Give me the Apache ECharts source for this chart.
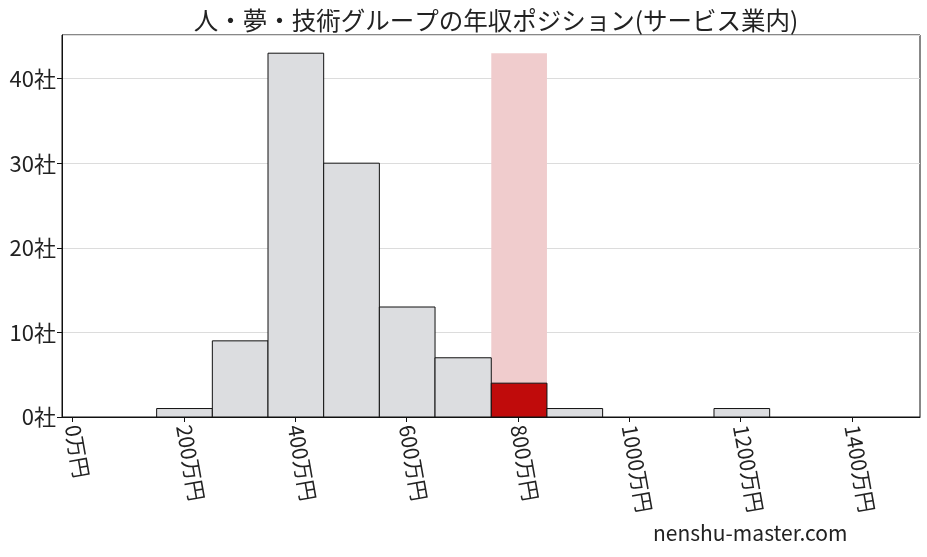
<!DOCTYPE html>
<html>
<head>
<meta charset="utf-8">
<script src="https://cdn.jsdelivr.net/npm/echarts@6/dist/echarts.min.js"></script>
<style>
  html, body { margin: 0; padding: 0; background: #fff; }
  #main { width: 927px; height: 557px; }
</style>
</head>
<body>
<div id="main"></div>
<script>
// ヒストグラムのデータ（年収の階級と社数）
var binEdges = [151, 251, 351, 451, 551, 651, 752, 852, 952, 1052, 1152, 1252];
var counts = [1, 9, 43, 30, 13, 7, 4, 1, 0, 0, 1];
var highlightIndex = 6;
var xTicks = [0, 200, 400, 600, 800, 1000, 1200, 1400];
var titleText = '人・夢・技術グループの年収ポジション(サービス業内)';

var FONT = '"Noto Sans CJK JP", "Noto Sans", sans-serif';

var barData = [];
for (var i = 0; i < counts.length; i++) {
  if (counts[i] > 0) {
    barData.push([binEdges[i], binEdges[i + 1], counts[i], i === highlightIndex ? 1 : 0]);
  }
}
var maxCount = Math.max.apply(null, counts);
var bandData = [[binEdges[highlightIndex], binEdges[highlightIndex + 1], maxCount]];

function renderBar(params, api) {
  var p0 = api.coord([api.value(0), 0]);
  var p1 = api.coord([api.value(1), api.value(2)]);
  var hl = api.value(3) === 1;
  return {
    type: 'rect',
    shape: { x: p0[0], y: p1[1], width: p1[0] - p0[0], height: p0[1] - p1[1] },
    style: {
      fill: hl ? '#c00b0b' : '#dcdde0',
      stroke: '#111',
      lineWidth: 1
    }
  };
}

function renderBand(params, api) {
  var p0 = api.coord([api.value(0), 0]);
  var p1 = api.coord([api.value(1), api.value(2)]);
  return {
    type: 'rect',
    shape: { x: p0[0], y: p1[1], width: p1[0] - p0[0], height: p0[1] - p1[1] },
    style: { fill: '#f0cccd' }
  };
}

var chart = echarts.init(document.getElementById('main'));
var option = {
  backgroundColor: '#fff',
  animation: false,
  title: {
    text: titleText,
    left: 491,
    textAlign: 'center',
    top: 3,
    textStyle: { fontFamily: FONT, fontSize: 24.5, fontWeight: 'normal', color: '#222' }
  },
  graphic: [{
    type: 'text',
    left: 653,
    top: 523,
    style: { text: 'nenshu-master.com', font: '21px ' + FONT, fill: '#222' }
  }],
  grid: {
    left: 62, right: 7, top: 35, bottom: 140,
    show: true, borderColor: '#111', borderWidth: 1
  },
  xAxis: {
    type: 'value',
    min: -19,
    max: 1522,
    splitLine: { show: false },
    axisLine: { show: true, onZero: false, lineStyle: { color: '#111' } },
    axisTick: { show: true, length: 5, lineStyle: { color: '#111' }, customValues: xTicks },
    axisLabel: {
      customValues: xTicks,
      rotate: -80,
      margin: 8,
      fontFamily: FONT,
      fontSize: 21,
      color: '#222',
      formatter: function (v) { return v + '万円'; }
    }
  },
  yAxis: {
    type: 'value',
    min: 0,
    max: 45.15,
    interval: 10,
    axisLine: { show: true, onZero: false, lineStyle: { color: '#111' } },
    axisTick: { show: true, length: 5, lineStyle: { color: '#111' } },
    splitLine: { show: true, lineStyle: { color: '#dcdcdc', width: 1 } },
    axisLabel: {
      fontFamily: FONT,
      fontSize: 22,
      color: '#222',
      margin: 6,
      showMaxLabel: false,
      formatter: function (v) { return v + '社'; }
    }
  },
  series: [
    { type: 'custom', renderItem: renderBand, data: bandData, encode: { x: [0, 1], y: 2 }, z: 1 },
    { type: 'custom', renderItem: renderBar, data: barData, encode: { x: [0, 1], y: 2 }, z: 2 }
  ]
};
chart.setOption(option);
</script>
</body>
</html>
